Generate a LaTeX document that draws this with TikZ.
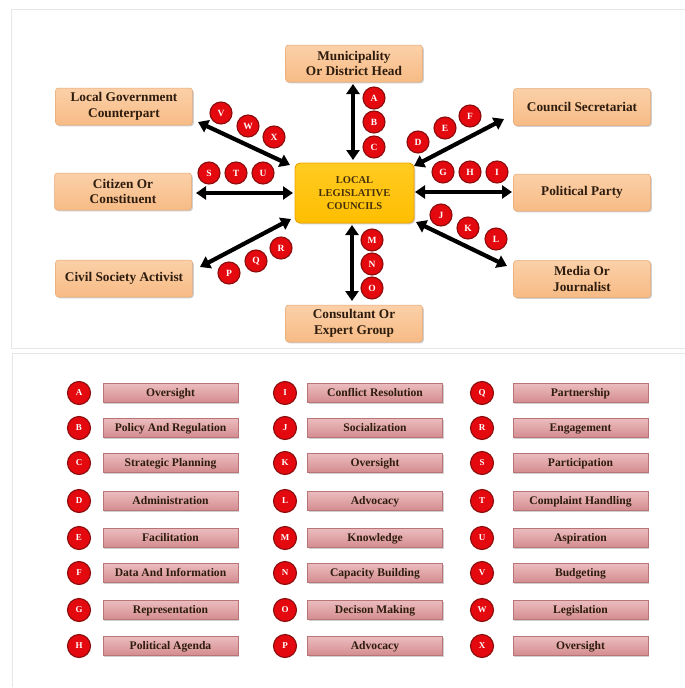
\documentclass[tikz,border=0pt]{standalone}
\usepackage{fontspec}
\setmainfont{Liberation Serif}
\usetikzlibrary{arrows.meta,shadows}

\definecolor{peach}{HTML}{F7BB85}
\definecolor{peachtop}{HTML}{FBD0A8}
\definecolor{peachedge}{HTML}{E6A874}
\definecolor{gold}{HTML}{FFBE00}
\definecolor{goldtop}{HTML}{FFCB22}
\definecolor{goldedge}{HTML}{EFA200}
\definecolor{badgered}{HTML}{E4080F}
\definecolor{badgeedge}{HTML}{8A0C0C}
\definecolor{rose}{HTML}{D48C90}
\definecolor{rosetop}{HTML}{EBBCBE}
\definecolor{roseedge}{HTML}{B97478}
\definecolor{ink}{HTML}{2E1C0E}
\definecolor{hubink}{HTML}{45300C}
\definecolor{panelline}{HTML}{E6E6E6}

\tikzset{
  softshadow/.style={drop shadow={shadow xshift=1.3pt, shadow yshift=-1.3pt, opacity=0.3, fill=black!60}},
  actor/.style={rounded corners=3pt, top color=peachtop, bottom color=peach, draw=peachedge,
    line width=0.5pt, softshadow, minimum width=137pt, minimum height=37pt, inner sep=0pt,
    align=center, text=ink, font=\bfseries\fontsize{13.3}{15.5}\selectfont},
  hub/.style={rounded corners=5pt, top color=goldtop, bottom color=gold, draw=goldedge,
    line width=0.9pt, softshadow, minimum width=119pt, minimum height=60pt, inner sep=0pt,
    align=center, text=hubink, font=\bfseries\fontsize{10.5}{13}\selectfont},
  badge/.style={circle, fill=badgered, draw=badgeedge, line width=1.1pt, minimum size=22pt,
    inner sep=0pt, text=white, font=\bfseries\fontsize{9.5}{9.5}\selectfont},
  keybadge/.style={badge, minimum size=23pt, font=\bfseries\fontsize{9}{9}\selectfont},
  keybar/.style={top color=rosetop, bottom color=rose, draw=roseedge, line width=0.4pt,
    softshadow, minimum width=135pt, minimum height=19pt, inner sep=0pt,
    text height=8.5pt, text depth=1.5pt,
    text=ink, font=\bfseries\fontsize{11.6}{11.6}\selectfont},
  link/.style={line width=4.2pt, draw=black,
    {Triangle[width=13pt,length=10pt]}-{Triangle[width=13pt,length=10pt]}},
  panel/.style={draw=panelline, line width=0.8pt}
}

\begin{document}
\begin{tikzpicture}[x=1pt,y=-1pt]
\useasboundingbox (0,0) rectangle (685,688);
\fill[white] (0,0) rectangle (685,688);

% panel frames
\draw[panel] (690,9) -- (11,9) -- (11,348) -- (690,348);
\draw[panel] (690,353) -- (12,353) -- (12,687);

% ---------- relationship map ----------
\node[hub] (llc) at (354.5,193) {LOCAL\\LEGISLATIVE\\COUNCILS};

\node[actor] (muni) at (354,63.5) {Municipality\\Or District Head};
\node[actor] (lgc)  at (124,106.5) {Local Government\\Counterpart};
\node[actor] (cs)   at (582,107) {Council Secretariat};
\node[actor] (cit)  at (123,191.5) {Citizen Or\\Constituent};
\node[actor] (pp)   at (582,192.5) {Political Party};
\node[actor] (civ)  at (124,278.5) {Civil Society Activist};
\node[actor] (med)  at (582,279) {Media Or\\Journalist};
\node[actor] (con)  at (354,323.5) {Consultant Or\\Expert Group};

% arrow end points
\coordinate (muniE) at (353,84);   \coordinate (llcN)  at (353,160);
\coordinate (conE)  at (352,301);  \coordinate (llcS)  at (352,225);
\coordinate (citE)  at (196,193);  \coordinate (llcW)  at (293,193);
\coordinate (ppE)   at (512,192);  \coordinate (llcE)  at (415,192);
\coordinate (lgcE)  at (198,122);  \coordinate (llcNW) at (290,165);
\coordinate (csE)   at (504,119);  \coordinate (llcNE) at (414,166);
\coordinate (medE)  at (507,266);  \coordinate (llcSE) at (416,222);
\coordinate (civE)  at (200,267);  \coordinate (llcSW) at (291,219);

\draw[link] (muniE) -- (llcN);
\draw[link] (conE) -- (llcS);
\draw[link] (citE) -- (llcW);
\draw[link] (ppE) -- (llcE);
\draw[link] (lgcE) -- (llcNW);
\draw[link] (csE) -- (llcNE);
\draw[link] (medE) -- (llcSE);
\draw[link] (civE) -- (llcSW);

% role badges along the arrows
\node[badge] (bA) at (374,98) {A};
\node[badge] (bB) at (374,122) {B};
\node[badge] (bC) at (374,147) {C};
\node[badge] (bD) at (418,142) {D};
\node[badge] (bE) at (445,128) {E};
\node[badge] (bF) at (470,116) {F};
\node[badge] (bG) at (443,172) {G};
\node[badge] (bH) at (470,172) {H};
\node[badge] (bI) at (497,172) {I};
\node[badge] (bJ) at (441,215) {J};
\node[badge] (bK) at (468,228) {K};
\node[badge] (bL) at (496,239) {L};
\node[badge] (bM) at (372,240) {M};
\node[badge] (bN) at (372,264) {N};
\node[badge] (bO) at (372,288) {O};
\node[badge] (bP) at (229,273) {P};
\node[badge] (bQ) at (256,261) {Q};
\node[badge] (bR) at (281,248) {R};
\node[badge] (bS) at (209,173) {S};
\node[badge] (bT) at (236,173) {T};
\node[badge] (bU) at (263,173) {U};
\node[badge] (bV) at (221,113) {V};
\node[badge] (bW) at (248,126) {W};
\node[badge] (bX) at (274,137) {X};

% ---------- key ----------
\foreach \lab/\txt/\yy in {
  A/Oversight/393, B/Policy And Regulation/428, C/Strategic Planning/463,
  D/Administration/501, E/Facilitation/538, F/Data And Information/573,
  G/Representation/610, H/Political Agenda/646}{
  \node[keybadge] (k\lab) at (79,\yy) {\lab};
  \node[keybar] (t\lab) at (170.5,\yy) {\txt};
}
\foreach \lab/\txt/\yy in {
  I/Conflict Resolution/393, J/Socialization/428, K/Oversight/463,
  L/Advocacy/501, M/Knowledge/538, N/Capacity Building/573,
  O/Decison Making/610, P/Advocacy/646}{
  \node[keybadge] (k\lab) at (285,\yy) {\lab};
  \node[keybar] (t\lab) at (375,\yy) {\txt};
}
\foreach \lab/\txt/\yy in {
  Q/Partnership/393, R/Engagement/428, S/Participation/463,
  T/Complaint Handling/501, U/Aspiration/538, V/Budgeting/573,
  W/Legislation/610, X/Oversight/646}{
  \node[keybadge] (k\lab) at (482,\yy) {\lab};
  \node[keybar] (t\lab) at (580.5,\yy) {\txt};
}
\end{tikzpicture}
\end{document}
